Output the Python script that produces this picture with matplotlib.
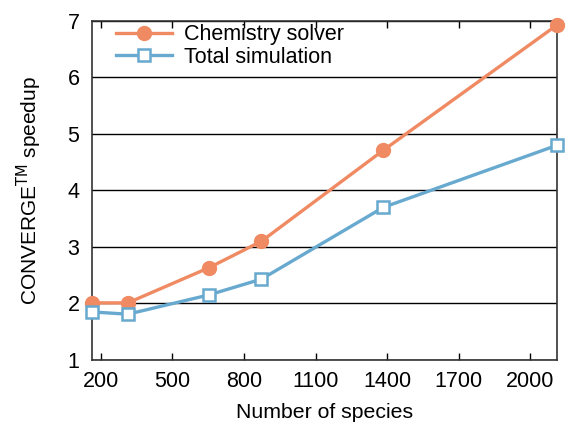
import matplotlib
matplotlib.use("Agg")
import matplotlib.pyplot as plt

plt.rcParams['font.family'] = ['Liberation Sans', 'DejaVu Sans']

# number of species for each mechanism
species = [163, 313, 652, 873, 1384, 2113]
# speedups
chem_solver = [2.01, 2.01, 2.63, 3.10, 4.71, 6.93]
total_sim = [1.85, 1.81, 2.15, 2.43, 3.70, 4.80]

xticks = [200, 500, 800, 1100, 1400, 1700, 2000]
yticks = [1, 2, 3, 4, 5, 6, 7]

fig = plt.figure(figsize=(5.68, 4.26), dpi=100)
ax = fig.add_axes([0.162, 0.155, 0.819, 0.796])

ax.plot(species, chem_solver, color='#ef8a62', lw=2.4, marker='o', ms=10,
        label='Chemistry solver', clip_on=False, zorder=3)
ax.plot(species, total_sim, color='#67a9cf', lw=2.4, marker='s', ms=8.5,
        mfc='white', mew=1.8, label='Total simulation', clip_on=False, zorder=3)

ax.set_xlim(163, 2113)
ax.set_ylim(1, 7)
ax.set_xticks(xticks)
ax.set_yticks(yticks)
ax.yaxis.grid(True, color='black', lw=1.0)
ax.set_axisbelow(True)
ax.tick_params(axis='x', direction='in', top=True, length=5, width=1,
               labelsize=15.5, pad=8)
ax.tick_params(axis='y', direction='in', length=0, labelsize=15.5, pad=9)
for s in ax.spines.values():
    s.set_color('#333333')
    s.set_linewidth(1.2)

ax.set_xlabel('Number of species', fontsize=15.3, labelpad=8)
ax.set_ylabel(r'CONVERGE$^{\mathrm{TM}}$ speedup', fontsize=15, labelpad=17)

ax.legend(loc='upper left', frameon=False, fontsize=15.5, handlelength=2.6,
          borderaxespad=0.0, borderpad=0.15, labelspacing=0.07,
          handletextpad=0.55, bbox_to_anchor=(0.045, 1.0))

fig.savefig('out.png', dpi=100)
